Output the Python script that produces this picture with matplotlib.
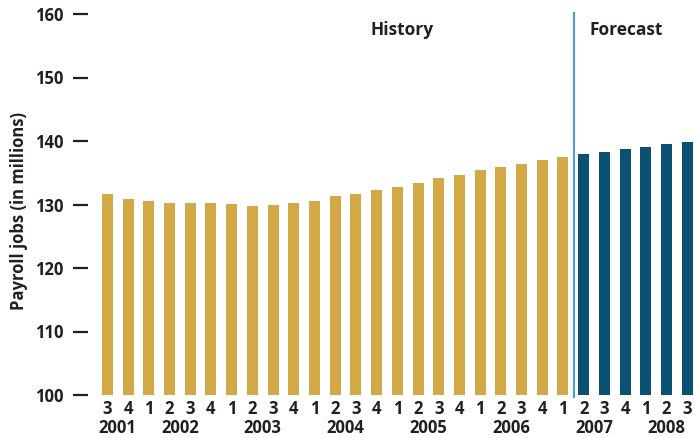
import matplotlib
matplotlib.use("Agg")
import matplotlib.pyplot as plt
import numpy as np

# Quarterly payroll jobs (millions), 2001 Q3 through 2008 Q3
history = [131.7, 130.9, 130.6, 130.2, 130.2, 130.2, 130.1, 129.8, 129.9, 130.2,
           130.6, 131.3, 131.7, 132.3, 132.8, 133.4, 134.2, 134.7, 135.4, 135.9,
           136.4, 137.0, 137.5]
forecast = [138.0, 138.3, 138.7, 139.1, 139.5, 139.8]
quarters = ["3", "4",
            "1", "2", "3", "4",
            "1", "2", "3", "4",
            "1", "2", "3", "4",
            "1", "2", "3", "4",
            "1", "2", "3", "4",
            "1", "2", "3", "4",
            "1", "2", "3"]
years = ["2001", "2002", "2003", "2004", "2005", "2006", "2007", "2008"]
year_counts = [2, 4, 4, 4, 4, 4, 4, 3]
y_ticks = [100, 110, 120, 130, 140, 150, 160]

GOLD = "#D3A847"
NAVY = "#0B5171"
LINE = "#4A9ED6"
TEXT = "#231F20"

plt.rcParams["font.family"] = ["Open Sans", "DejaVu Sans"]
plt.rcParams["font.weight"] = "bold"

W, H = 694, 438
fig = plt.figure(figsize=(W / 100, H / 100), dpi=100)
ax = fig.add_axes([88 / W, 43 / H, (W - 88) / W, (395 - 14) / H])

n_hist = len(history)
x_hist = np.arange(n_hist)
x_fc = np.arange(n_hist, n_hist + len(forecast))
bw = 0.53
ax.bar(x_hist, np.array(history) - 100, bottom=100, width=bw, color=GOLD)
ax.bar(x_fc, np.array(forecast) - 100, bottom=100, width=bw, color=NAVY)

# Divider between history and forecast
ax.plot([n_hist - 0.45, n_hist - 0.45], [99.7, 160.15], color=LINE, lw=1.5,
        clip_on=False, zorder=3)

ax.set_ylim(100, 160)
ax.set_xlim(-0.94, 28.33)

for s in ax.spines.values():
    s.set_visible(False)

ax.set_yticks(y_ticks)
ax.set_yticklabels([str(v) for v in y_ticks])
ax.tick_params(axis="y", direction="out", length=10.8, width=1.6, color=TEXT,
               pad=7, labelsize=12, labelcolor=TEXT)

ax.set_xticks(np.arange(len(quarters)))
ax.set_xticklabels(quarters)
ax.tick_params(axis="x", length=0, pad=3.5, labelsize=12, labelcolor=TEXT)

# Year labels centred under their quarters
start = 0
for yr, cnt in zip(years, year_counts):
    center = start + (cnt - 1) / 2
    ax.text(center, -33 / 381, yr, transform=ax.get_xaxis_transform(),
            ha="center", va="center", fontsize=12, fontweight="bold", color=TEXT)
    start += cnt

ax.text(14.25, 157.5, "History", ha="center", va="center",
        fontsize=12.5, fontweight="bold", color=TEXT)
ax.text(25.06, 157.5, "Forecast", ha="center", va="center",
        fontsize=12.5, fontweight="bold", color=TEXT)

fig.text(19 / W, 1 - 211 / H, "Payroll jobs (in millions)", rotation=90,
         ha="center", va="center", fontsize=12, fontweight="bold", color=TEXT)

fig.savefig("out.png", dpi=100)
